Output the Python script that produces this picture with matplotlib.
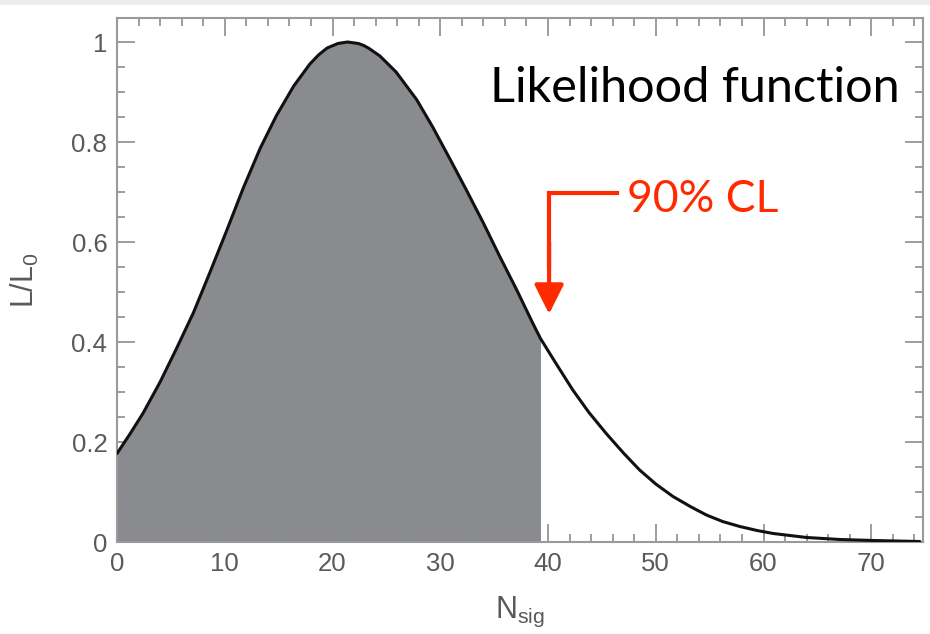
import matplotlib
matplotlib.use("Agg")
import matplotlib.pyplot as plt
from matplotlib.patches import Rectangle
from matplotlib.ticker import MultipleLocator

# ---- data ----
n_sig = [0, 1.2, 2.4, 4.0, 5.5, 7.1, 8.6, 10.2, 11.7, 13.3, 14.8, 16.4, 17.9,
         18.7, 19.5, 20.5, 21.4, 22.4, 22.9, 23.4, 24.4, 25.9, 27.8, 29.3,
         30.9, 32.4, 34.0, 35.5, 37.1, 38.6, 39.3, 40.8, 42.3, 43.8, 45.4,
         47.0, 48.5, 50.0, 51.6, 53.2, 54.7, 56.2, 57.8, 59.4, 60.9, 64.0,
         67.1, 70.2, 74.5]
likelihood = [0.177, 0.216, 0.257, 0.320, 0.386, 0.459, 0.538, 0.624, 0.707,
              0.788, 0.853, 0.912, 0.956, 0.974, 0.988, 0.997, 1.000, 0.997,
              0.993, 0.987, 0.972, 0.940, 0.885, 0.830, 0.766, 0.705, 0.638,
              0.572, 0.504, 0.437, 0.407, 0.355, 0.304, 0.259, 0.217, 0.178,
              0.144, 0.116, 0.091, 0.071, 0.054, 0.041, 0.031, 0.023, 0.017,
              0.009, 0.005, 0.003, 0.001]
cl90_limit = 39.3
xticks = [0, 10, 20, 30, 40, 50, 60, 70]
yticks = [0, 0.2, 0.4, 0.6, 0.8, 1]
ytick_labels = ["0", "0.2", "0.4", "0.6", "0.8", "1"]

plt.rcParams['mathtext.fontset'] = 'custom'
plt.rcParams['mathtext.rm'] = 'Liberation Sans'
plt.rcParams['mathtext.it'] = 'Liberation Sans'

W, H = 930, 634
fig = plt.figure(figsize=(W / 100, H / 100), dpi=100)
fig.patch.set_facecolor('white')
fig.patches.append(Rectangle((0, 1 - 5 / H), 1, 5 / H, transform=fig.transFigure,
                             facecolor='#ededed', edgecolor='none', zorder=-1))

ax = fig.add_axes([117 / W, (H - 542) / H, (923 - 117) / W, (542 - 18) / H])

fx = [x for x in n_sig if x <= cl90_limit]
fy = likelihood[:len(fx)]
ax.fill_between(fx, 0, fy, color='#8a8b8f', linewidth=0, zorder=1)
ax.plot(n_sig, likelihood, color='#111111', lw=2.2, zorder=3,
        solid_capstyle='round', solid_joinstyle='round')

ax.set_xlim(0, 74.8)
ax.set_ylim(0, 1.048)

grey = '#8c8c8c'
for s in ax.spines.values():
    s.set_color('#9a9a9a')
    s.set_linewidth(1.5)

ax.set_xticks(xticks)
ax.set_yticks(yticks)
ax.set_yticklabels(ytick_labels)
ax.xaxis.set_minor_locator(MultipleLocator(2))
ax.yaxis.set_minor_locator(MultipleLocator(0.05))
ax.tick_params(which='both', direction='in', top=True, right=True, color=grey,
               labelcolor='#5a5a5a', labelsize=18.5, width=1.2)
ax.tick_params(which='major', length=13, pad=7)
ax.tick_params(which='minor', length=6)
for lab in ax.get_xticklabels() + ax.get_yticklabels():
    lab.set_fontfamily('Liberation Sans')

ax.set_xlabel(r'N$_{\mathrm{sig}}$', fontsize=22, color='#5a5a5a',
              family='Liberation Sans', labelpad=14)
ax.set_ylabel(r'L/L$_{\mathrm{0}}$', fontsize=22, color='#5a5a5a',
              family='Liberation Sans', labelpad=22)

# annotations
fig.text(490 / W, 1 - 102 / H, 'Likelihood function', fontsize=35,
         family='Lato', color='black', ha='left', va='baseline')
red = '#ff2a00'
fig.text(627 / W, 1 - 212 / H, '90% CL', fontsize=32, family='Lato',
         color=red, ha='left', va='baseline')
ax.plot([46.4, 40.1, 40.1], [0.698, 0.698, 0.55], color=red, lw=3,
        solid_joinstyle='miter', zorder=5, clip_on=False)
ax.annotate('', xy=(40.1, 0.456), xytext=(40.1, 0.60),
            arrowprops=dict(arrowstyle='-|>,head_length=0.9,head_width=0.45',
                            color=red, lw=3, mutation_scale=20,
                            shrinkA=0, shrinkB=0), zorder=5)

fig.savefig('out.png', dpi=100)
